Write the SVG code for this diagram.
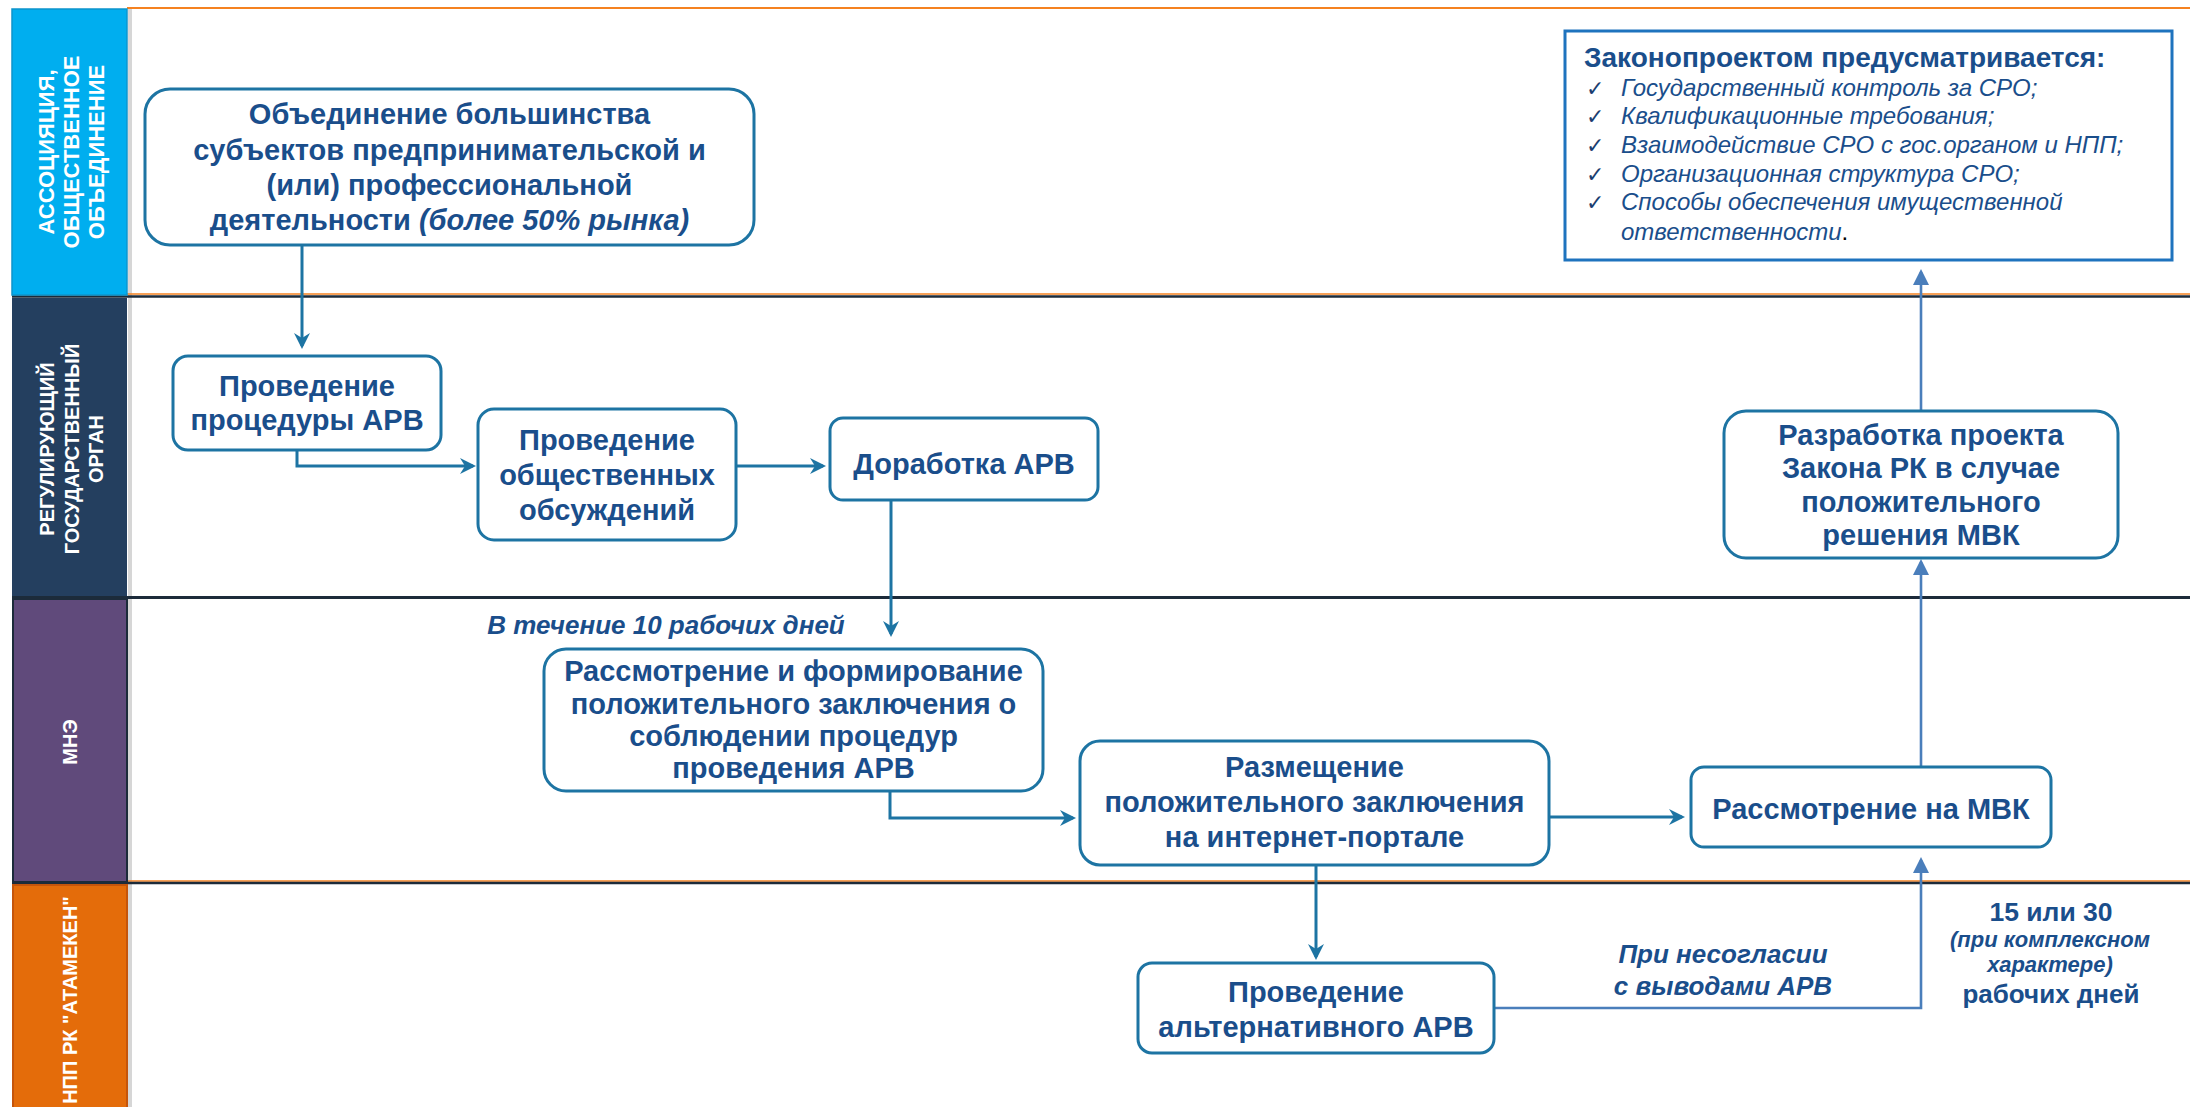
<svg xmlns="http://www.w3.org/2000/svg" width="2190" height="1107" viewBox="0 0 2190 1107">
<style>
.lane-t{font-family:"Liberation Sans",Arial,sans-serif;font-weight:bold;fill:#FFFFFF;text-anchor:middle}
.box{fill:#FFFFFF;stroke:#1D74A3;stroke-width:3}
.bt{font-family:"Liberation Sans",Arial,sans-serif;font-weight:bold;fill:#1A4E8B;text-anchor:middle;font-size:29px}
.it{font-style:italic}
.conn{fill:none;stroke:#1D74A3;stroke-width:3}
.conn2{fill:none;stroke:#4A7EBB;stroke-width:2.6}
.lbl{font-family:"Liberation Sans",Arial,sans-serif;font-weight:bold;font-style:italic;fill:#1A4E8B}
.note{font-family:"Liberation Sans",Arial,sans-serif;fill:#1A4E8B}
.chk{font-family:"DejaVu Sans",sans-serif;fill:#1B3E70;font-size:22px}
</style>
<defs>
<marker id="ah" viewBox="-14 -9 18 18" markerWidth="18" markerHeight="18" refX="0" refY="0" markerUnits="userSpaceOnUse" orient="auto">
<path d="M3,0 L-13,-8 L-8,0 L-13,8 Z" fill="#1D74A3"/>
</marker>
<marker id="ah2" viewBox="-14 -9 18 18" markerWidth="18" markerHeight="18" refX="0" refY="0" markerUnits="userSpaceOnUse" orient="auto">
<path d="M3,0 L-13,-8 L-13,8 Z" fill="#4A7EBB"/>
</marker>
</defs>
<rect x="0" y="0" width="2190" height="1107" fill="#FFFFFF"/>

<g id="lanes">
<rect x="128" y="9" width="4" height="1098" fill="#D6D6D6"/>
<line x1="127" y1="8" x2="2190" y2="8" stroke="#F58220" stroke-width="2"/>
<line x1="127" y1="294" x2="2190" y2="294" stroke="#F58220" stroke-width="1.5"/>
<line x1="12" y1="296.5" x2="2190" y2="296.5" stroke="#1C2B3A" stroke-width="2.5"/>
<line x1="12" y1="597.5" x2="2190" y2="597.5" stroke="#1C2B3A" stroke-width="3"/>
<line x1="127" y1="881" x2="2190" y2="881" stroke="#F58220" stroke-width="1.5"/>
<line x1="12" y1="883" x2="2190" y2="883" stroke="#1C2B3A" stroke-width="2.5"/>
</g>

<g id="lane1-header">
<rect x="12" y="9" width="115" height="286" fill="#00AEEF" stroke="#0C94CC" stroke-width="1.5"/>
<g transform="translate(0,152) rotate(-90)">
<text class="lane-t" font-size="22" x="0" y="54">АССОЦИЯЦИЯ,</text>
<text class="lane-t" font-size="22" x="0" y="79">ОБЩЕСТВЕННОЕ</text>
<text class="lane-t" font-size="22" x="0" y="104">ОБЪЕДИНЕНИЕ</text>
</g>
</g>
<g id="lane2-header">
<rect x="12" y="298" width="115" height="298" fill="#243F5F"/>
<g transform="translate(0,449) rotate(-90)">
<text class="lane-t" font-size="20" x="0" y="54">РЕГУЛИРУЮЩИЙ</text>
<text class="lane-t" font-size="20" x="0" y="79">ГОСУДАРСТВЕННЫЙ</text>
<text class="lane-t" font-size="20" x="0" y="103">ОРГАН</text>
</g>
</g>
<g id="lane3-header">
<rect x="13" y="599" width="114" height="283" fill="#604A7B" stroke="#1C2B3A" stroke-width="2"/>
<text class="lane-t" font-size="20" transform="translate(77,742) rotate(-90)" x="0" y="0">МНЭ</text>
</g>
<g id="lane4-header">
<rect x="13" y="885" width="114" height="230" fill="#E46C0A" stroke="#C5550B" stroke-width="2"/>
<text class="lane-t" font-size="20" transform="translate(77,1000) rotate(-90)" x="0" y="0">НПП РК "АТАМЕКЕН"</text>
</g>

<g id="connectors">
<path class="conn" d="M302,245 V346" marker-end="url(#ah)"/>
<path class="conn" d="M297,450 V466 H473" marker-end="url(#ah)"/>
<path class="conn" d="M737,466 H823" marker-end="url(#ah)"/>
<path class="conn" d="M891,500 V634" marker-end="url(#ah)"/>
<path class="conn" d="M890,792 V818 H1073" marker-end="url(#ah)"/>
<path class="conn" d="M1549,817 H1682" marker-end="url(#ah)"/>
<path class="conn" d="M1316,866 V957" marker-end="url(#ah)"/>
<path class="conn2" d="M1494,1008 H1921 V860" marker-end="url(#ah2)"/>
<path class="conn2" d="M1921,767 V562" marker-end="url(#ah2)"/>
<path class="conn2" d="M1921,411 V272" marker-end="url(#ah2)"/>
<text class="lbl" font-size="26" x="666" y="634" text-anchor="middle">В течение 10 рабочих дней</text>
<text class="lbl" font-size="26" x="1723" y="963" text-anchor="middle">При несогласии</text>
<text class="lbl" font-size="26" x="1723" y="995" text-anchor="middle">с выводами АРВ</text>
</g>

<g id="n1">
<rect class="box" x="145" y="89" width="609" height="156" rx="25"/>
<text class="bt" x="449.5" y="124">Объединение большинства</text>
<text class="bt" x="449.5" y="160">субъектов предпринимательской и</text>
<text class="bt" x="449.5" y="195">(или) профессиональной</text>
<text class="bt" x="449.5" y="230">деятельности <tspan class="it">(более 50% рынка)</tspan></text>
</g>
<g id="n2">
<rect class="box" x="173" y="356" width="268" height="94" rx="15"/>
<text class="bt" x="307" y="396">Проведение</text>
<text class="bt" x="307" y="430">процедуры АРВ</text>
</g>
<g id="n3">
<rect class="box" x="478" y="409" width="258" height="131" rx="16"/>
<text class="bt" x="607" y="450">Проведение</text>
<text class="bt" x="607" y="485">общественных</text>
<text class="bt" x="607" y="520">обсуждений</text>
</g>
<g id="n4">
<rect class="box" x="830" y="418" width="268" height="82" rx="13"/>
<text class="bt" x="964" y="474">Доработка АРВ</text>
</g>
<g id="n5">
<rect class="box" x="544" y="649" width="499" height="142" rx="22"/>
<text class="bt" font-size="26.5" x="793.5" y="681">Рассмотрение и формирование</text>
<text class="bt" font-size="26.5" x="793.5" y="714">положительного заключения о</text>
<text class="bt" font-size="26.5" x="793.5" y="746">соблюдении процедур</text>
<text class="bt" font-size="26.5" x="793.5" y="778">проведения АРВ</text>
</g>
<g id="n6">
<rect class="box" x="1080" y="741" width="469" height="124" rx="20"/>
<text class="bt" x="1314.5" y="777">Размещение</text>
<text class="bt" x="1314.5" y="812">положительного заключения</text>
<text class="bt" x="1314.5" y="847">на интернет-портале</text>
</g>
<g id="n7">
<rect class="box" x="1691" y="767" width="360" height="80" rx="13"/>
<text class="bt" x="1871" y="819">Рассмотрение на МВК</text>
</g>
<g id="n8">
<rect class="box" x="1138" y="963" width="356" height="90" rx="14"/>
<text class="bt" x="1316" y="1002">Проведение</text>
<text class="bt" x="1316" y="1037">альтернативного АРВ</text>
</g>
<g id="n9">
<rect class="box" x="1724" y="411" width="394" height="147" rx="22"/>
<text class="bt" font-size="28" x="1921" y="445">Разработка проекта</text>
<text class="bt" font-size="28" x="1921" y="478">Закона РК в случае</text>
<text class="bt" font-size="28" x="1921" y="512">положительного</text>
<text class="bt" font-size="28" x="1921" y="545">решения МВК</text>
</g>
<g id="n10">
<rect x="1565" y="31" width="607" height="229" fill="#FFFFFF" stroke="#1E73BE" stroke-width="3"/>
<text class="note" font-weight="bold" font-size="28" x="1584" y="67">Законопроектом предусматривается:</text>
<text class="chk" x="1586" y="96">✓</text>
<text class="note it" font-size="24" x="1621" y="96">Государственный контроль за СРО;</text>
<text class="chk" x="1586" y="124">✓</text>
<text class="note it" font-size="24" x="1621" y="124">Квалификационные требования;</text>
<text class="chk" x="1586" y="153">✓</text>
<text class="note it" font-size="24" x="1621" y="153">Взаимодействие СРО с гос.органом и НПП;</text>
<text class="chk" x="1586" y="182">✓</text>
<text class="note it" font-size="24" x="1621" y="182">Организационная структура СРО;</text>
<text class="chk" x="1586" y="210">✓</text>
<text class="note it" font-size="24" x="1621" y="210">Способы обеспечения имущественной</text>
<text class="note" font-size="24" x="1621" y="240"><tspan class="it">ответственности</tspan><tspan fill="#000000">.</tspan></text>
</g>
<g id="duration">
<text class="note" font-weight="bold" font-size="26.5" x="2051" y="921" text-anchor="middle">15 или 30</text>
<text class="lbl" font-size="22" x="2050" y="947" text-anchor="middle">(при комплексном</text>
<text class="lbl" font-size="22" x="2050" y="972" text-anchor="middle">характере)</text>
<text class="note" font-weight="bold" font-size="26" x="2051" y="1003" text-anchor="middle">рабочих дней</text>
</g>
</svg>
